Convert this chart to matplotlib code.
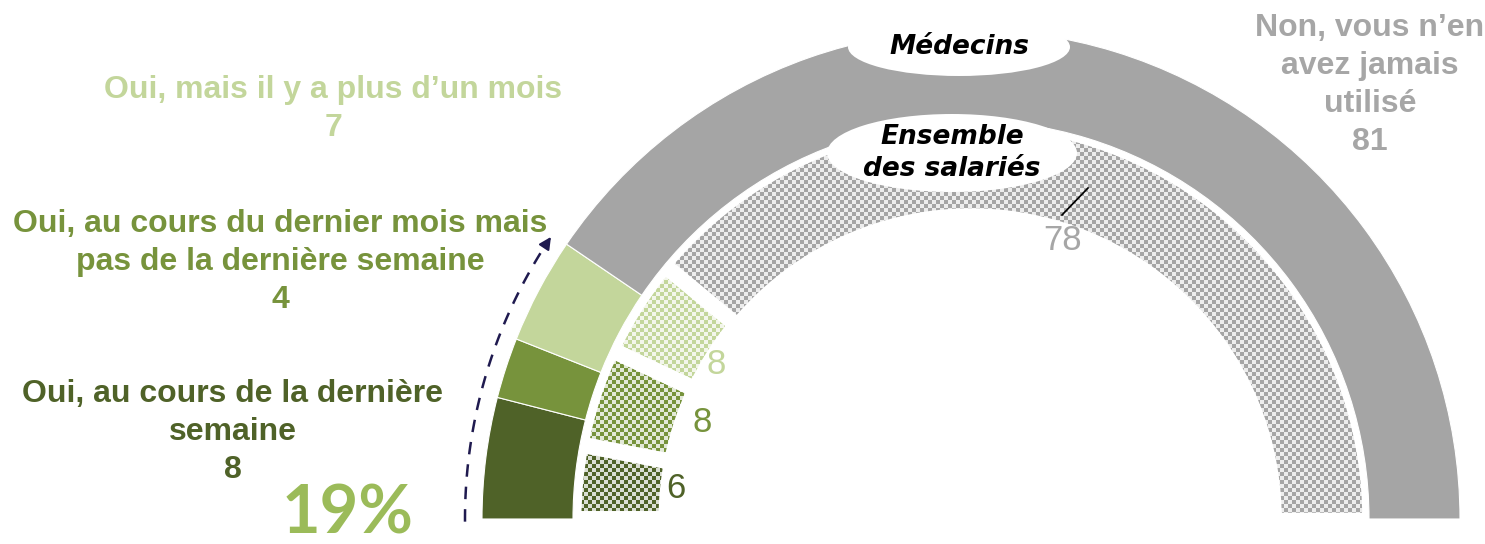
import numpy as np
import matplotlib.pyplot as plt
from matplotlib.patches import Ellipse

# données (en %)
categories = ["Oui, au cours de la dernière semaine",
              "Oui, au cours du dernier mois mais pas de la dernière semaine",
              "Oui, mais il y a plus d’un mois",
              "Non, vous n’en avez jamais utilisé"]
medecins = [8, 4, 7, 81]
salaries = [6, 8, 8, 78]
colors = ["#4f6228", "#77933c", "#c3d69b", "#a5a5a5"]

W, H = 1485, 544
fig = plt.figure(figsize=(W / 100, H / 100), dpi=100)
ax = fig.add_axes([0, 0, 1, 1])

cx, cy = 971, 25
r_out, w_out = 489, 91
r_in, w_in = 397.5, 93

# anneau extérieur : médecins (la moitié basse est invisible)
wedges_out, _ = ax.pie(medecins + [sum(medecins)], radius=r_out, center=(cx, cy),
                       startangle=180, counterclock=False, colors=colors + ["white"],
                       wedgeprops=dict(width=w_out, edgecolor="white", linewidth=0.8, zorder=2))
wedges_out[-1].set_visible(False)

# anneau intérieur : ensemble des salariés, motif damier
wedges_in, _ = ax.pie(salaries + [sum(salaries)], radius=r_in, center=(cx, cy),
                      startangle=180, counterclock=False, colors=["none"] * 5,
                      wedgeprops=dict(width=w_in, edgecolor="white", linewidth=9))
wedges_in[-1].set_visible(False)
for wdg in wedges_in[:3]:
    wdg.set_linewidth(11.5)

yy, xx = np.indices((H, W))
checker = ((yy // 4 + xx // 4) % 2)[::-1].astype(float)
for wdg, col in zip(wedges_in[:-1], colors):
    rgb = np.array(plt.matplotlib.colors.to_rgb(col))
    img = np.ones((H, W, 3))
    img[checker == 1] = rgb
    img[checker == 0] = rgb * 0.2 + 0.8
    im = ax.imshow(img, extent=(0, W, 0, H), origin="upper", interpolation="bilinear", zorder=0.5)
    im.set_clip_path(wdg)

# étiquettes des anneaux
ax.add_patch(Ellipse((959, H - 47), 222, 58, facecolor="white", edgecolor="none", zorder=3))
ax.add_patch(Ellipse((952, H - 153), 250, 78, facecolor="white", edgecolor="none", zorder=3))
ax.text(959, H - 47, "Médecins", ha="center", va="center", fontsize=19,
        family="DejaVu Sans", weight="bold", style="oblique", zorder=4)
ax.text(952, H - 153, "Ensemble\ndes salariés", ha="center", va="center", fontsize=19,
        family="DejaVu Sans", weight="bold", style="oblique", linespacing=1.25, zorder=4)

lbl = dict(ha="center", va="center", family="Liberation Sans", weight="bold",
           fontsize=23, linespacing=1.35)
ax.text(333, H - 109, f"Oui, mais il y a plus d’un mois\n{medecins[2]}", color=colors[2], **lbl)
ax.text(280, H - 262, f"Oui, au cours du dernier mois mais\npas de la dernière semaine\n{medecins[1]}",
        color=colors[1], **lbl)
ax.text(233, H - 432, f"Oui, au cours de la dernière\nsemaine\n{medecins[0]}", color=colors[0], **lbl)
ax.text(1370, H - 85, f"Non, vous n’en\navez jamais\nutilisé\n{medecins[3]}", color="#a6a6a6", **lbl)

num = dict(ha="center", va="center", family="Liberation Sans", fontsize=25)
ax.text(716, H - 365, str(salaries[2]), color=colors[2], **num)
ax.text(702, H - 422, str(salaries[1]), color=colors[1], **num)
ax.text(676, H - 488, str(salaries[0]), color=colors[0], **num)
ax.text(1063, H - 240, str(salaries[3]), color="#a6a6a6", **num)
ax.plot([1062, 1088], [H - 215, H - 188], color="black", lw=1.2)

# total des "oui" et flèche en arc
total_oui = sum(medecins[:3])
ax.text(348, H - 533, f"{total_oui}%", ha="center", va="baseline", family="Lato",
        weight="bold", fontsize=48, color="#9bbb59")
ang = np.radians(np.linspace(180.3, 180 - total_oui * 1.8 + 1.5, 100))
r_arr = 506
ax.plot(cx + r_arr * np.cos(ang), cy + r_arr * np.sin(ang), color="#1f1a4f",
        lw=1.8, dashes=(5, 4))
a_end = np.radians(180 - total_oui * 1.8)
ax.annotate("", xy=(cx + r_arr * np.cos(a_end), cy + r_arr * np.sin(a_end)),
            xytext=(cx + r_arr * np.cos(ang[-1]), cy + r_arr * np.sin(ang[-1])),
            arrowprops=dict(arrowstyle="-|>", color="#1f1a4f", lw=1.5, mutation_scale=18))

ax.set_xlim(0, W)
ax.set_ylim(0, H)
ax.set_aspect("equal")
ax.axis("off")

fig.savefig("out.png", dpi=100)
